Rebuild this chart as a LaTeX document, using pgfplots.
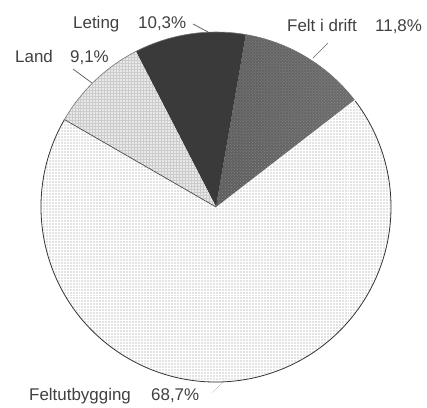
\documentclass[border=0pt]{standalone}
\usepackage{pgfplots}
\pgfplotsset{compat=1.18}
\usepackage{fontspec}
\setmainfont{Liberation Sans}
\usetikzlibrary{patterns}
\definecolor{txt}{HTML}{404040}
\definecolor{cFU}{HTML}{E4E4E4}
\definecolor{cLand}{HTML}{E8E8E8}
\definecolor{cLet}{HTML}{3A3A3A}
\definecolor{cFdL}{HTML}{5E5E5E}
\definecolor{cFdM}{HTML}{8E8E8E}
\definecolor{cFdR}{HTML}{6C6C6C}
\begin{document}
\begin{tikzpicture}
% shares in percent
\pgfmathsetmacro\sA{37.7}          % start of "Felt i drift"
\pgfmathsetmacro\dA{11.8*3.6}      % Felt i drift 11,8 %
\pgfmathsetmacro\sB{\sA+\dA}
\pgfmathsetmacro\dB{10.3*3.6}      % Leting 10,3 %
\pgfmathsetmacro\sC{\sB+\dB}
\pgfmathsetmacro\dC{9.1*3.6}       % Land 9,1 %
\pgfmathsetmacro\sD{\sC+\dC}
\pgfmathsetmacro\dD{68.7*3.6}      % Feltutbygging 68,7 %
\begin{axis}[scale only axis, width=427bp, height=407bp,
  xmin=0, xmax=427, ymin=0, ymax=407, hide axis, clip=false]
\path (axis cs:0,0) rectangle (axis cs:427,407);
% Feltutbygging
\fill[cFU] (axis cs:216,200) -- ++(\sD:175bp) arc[start angle=\sD, delta angle=\dD, radius=175bp] -- cycle;
\fill[pattern=grid, pattern color=white] (axis cs:216,200) -- ++(\sD:175bp) arc[start angle=\sD, delta angle=\dD, radius=175bp] -- cycle;
% Felt i drift
\shade[left color=cFdL, middle color=cFdM, right color=cFdR] (axis cs:216,200) -- ++(\sA:175bp) arc[start angle=\sA, delta angle=\dA, radius=175bp] -- cycle;
\fill[pattern=crosshatch dots, pattern color=white!70!gray, opacity=0.35] (axis cs:216,200) -- ++(\sA:175bp) arc[start angle=\sA, delta angle=\dA, radius=175bp] -- cycle;
% Leting
\fill[cLet] (axis cs:216,200) -- ++(\sB:175bp) arc[start angle=\sB, delta angle=\dB, radius=175bp] -- cycle;
% Land
\fill[cLand] (axis cs:216,200) -- ++(\sC:175bp) arc[start angle=\sC, delta angle=\dC, radius=175bp] -- cycle;
\fill[pattern=grid, pattern color=black!20] (axis cs:216,200) -- ++(\sC:175bp) arc[start angle=\sC, delta angle=\dC, radius=175bp] -- cycle;
% outlines
\draw[black!70, line width=0.7pt] (axis cs:216,200) -- ++(\sD:175bp);
\draw[black!80, line width=0.8pt] (axis cs:216,200) ++(\sD:175bp) arc[start angle=\sD, delta angle=\dD, radius=175bp];
\draw[black!55, line width=0.6pt] (axis cs:216,200) ++(\sA:175bp) arc[start angle=\sA, delta angle=-\dD+360, radius=175bp];
% leader lines
\draw[black!60, line width=0.8pt] (axis cs:193,383) -- (axis cs:208,375);
\draw[black!60, line width=0.8pt] (axis cs:73,338) -- (axis cs:92,324);
\draw[black!60, line width=0.6pt] (axis cs:328,364) -- (axis cs:313,349);
\draw[black!40, line width=0.5pt, densely dotted] (axis cs:212,14) -- (axis cs:225,27);
% labels
\tikzset{lab/.style={anchor=base west, text=txt, font=\fontsize{17}{19}\selectfont, inner sep=0pt}}
\node[lab] at (axis cs:73,379) {Leting};
\node[lab] at (axis cs:138,379) {10,3\%};
\node[lab] at (axis cs:15,345) {Land};
\node[lab] at (axis cs:70,345) {9,1\%};
\node[lab] at (axis cs:287,376) {Felt i drift};
\node[lab] at (axis cs:375,376) {11,8\%};
\node[lab] at (axis cs:29,7) {Feltutbygging};
\node[lab] at (axis cs:151,7) {68,7\%};
\end{axis}
\end{tikzpicture}
\end{document}
